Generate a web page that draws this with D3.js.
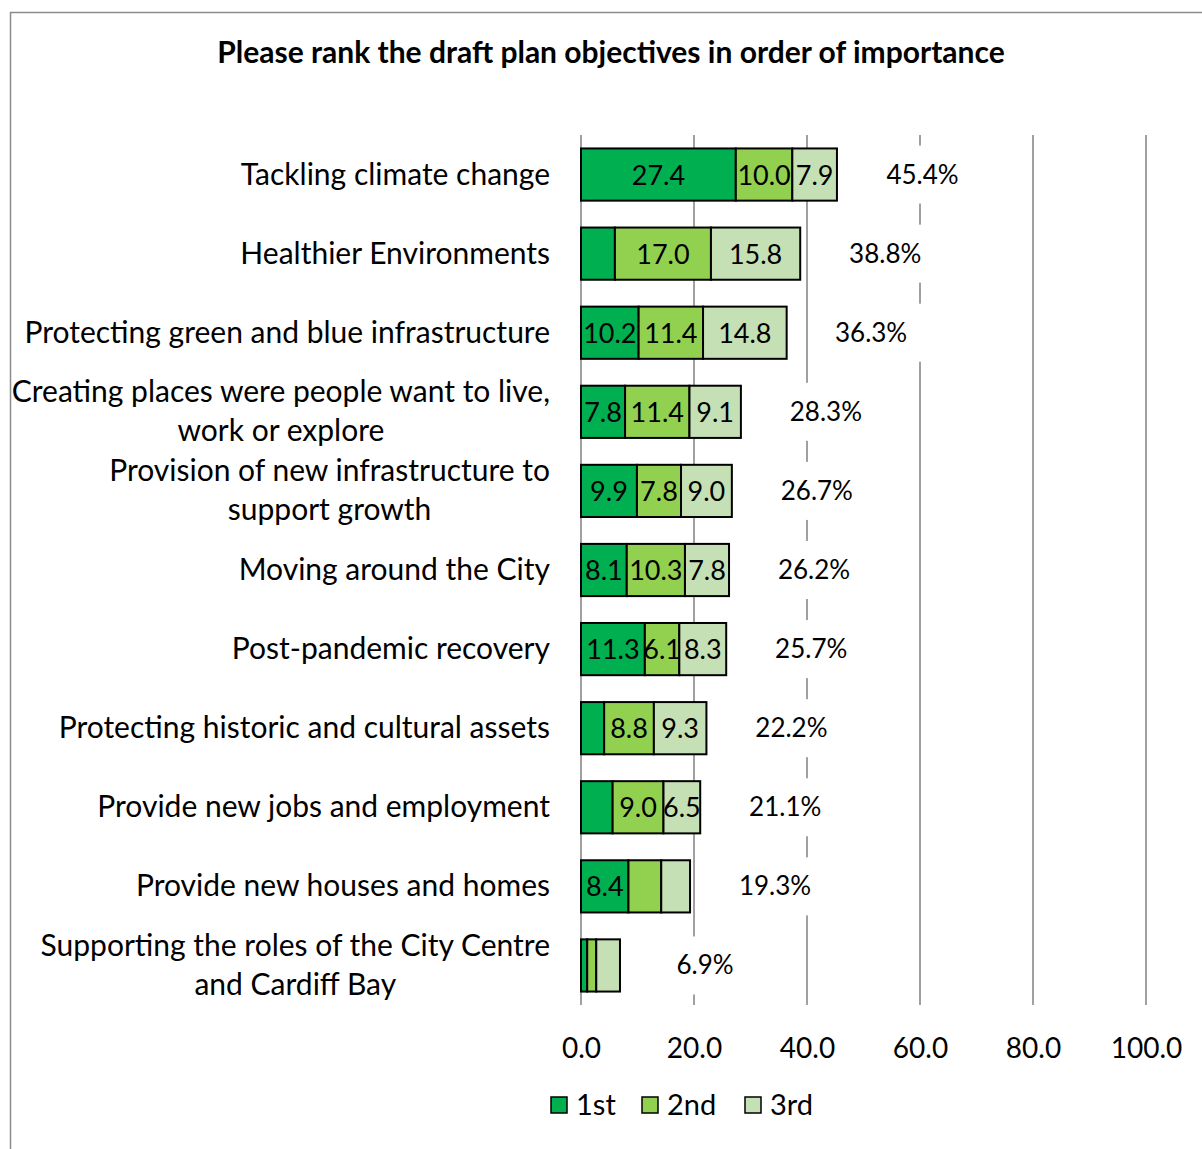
<!DOCTYPE html>
<html>
<head>
<meta charset="utf-8">
<script src="https://cdn.jsdelivr.net/npm/d3@7"></script>
<style>
  body { margin: 0; background: #fff; }
  text { font-family: Lato, "Liberation Sans", sans-serif; fill: #000; }
</style>
</head>
<body>
<div id="chart"></div>
<script>
// Create data
var categories = [
    'Tackling climate change',
    'Healthier Environments',
    'Protecting green and blue infrastructure',
    'Creating places were people want to live, work or explore',
    'Provision of new infrastructure to support growth',
    'Moving around the City',
    'Post-pandemic recovery',
    'Protecting historic and cultural assets',
    'Provide new jobs and employment',
    'Provide new houses and homes',
    'Supporting the roles of the City Centre and Cardiff Bay'
];
// label lines as they wrap in the original
var labelLines = [
    ['Tackling climate change'],
    ['Healthier Environments'],
    ['Protecting green and blue infrastructure'],
    ['Creating places were people want to live,', 'work or explore'],
    ['Provision of new infrastructure to', 'support growth'],
    ['Moving around the City'],
    ['Post-pandemic recovery'],
    ['Protecting historic and cultural assets'],
    ['Provide new jobs and employment'],
    ['Provide new houses and homes'],
    ['Supporting the roles of the City Centre', 'and Cardiff Bay']
];
var first = [27.4, 6.0, 10.2, 7.8, 9.9, 8.1, 11.3, 4.1, 5.6, 8.4, 1.1];
var second = [10.0, 17.0, 11.4, 11.4, 7.8, 10.3, 6.1, 8.8, 9.0, 5.8, 1.6];
var third = [7.9, 15.8, 14.8, 9.1, 9.0, 7.8, 8.3, 9.3, 6.5, 5.1, 4.2];
var totals = [45.4, 38.8, 36.3, 28.3, 26.7, 26.2, 25.7, 22.2, 21.1, 19.3, 6.9];
var seriesNames = ['1st', '2nd', '3rd'];
var xTicks = [0, 20, 40, 60, 80, 100];

var colors = {
    '1st': '#00b050',
    '2nd': '#92d050',
    '3rd': '#c5e0b4'
};

var width = 1202,
    height = 1149;

var rows = categories.map(function (c, i) {
    return { cat: c, '1st': first[i], '2nd': second[i], '3rd': third[i], total: totals[i], lines: labelLines[i] };
});

var svg = d3.select("#chart").append("svg")
    .attr("width", width)
    .attr("height", height);

// chart frame
svg.append("rect")
    .attr("x", 10.5)
    .attr("y", 12.5)
    .attr("width", 1400)
    .attr("height", 1400)
    .style("fill", "none")
    .style("stroke", "#8c8c8c")
    .style("stroke-width", 1.5);

svg.append("text")
    .attr("x", 611)
    .attr("y", 63)
    .style("text-anchor", "middle")
    .style("font-weight", "bold")
    .style("font-size", "30px")
    .text("Please rank the draft plan objectives in order of importance");

var x = d3.scaleLinear()
    .domain([0, 100])
    .range([581, 1146]);
var y = d3.scaleBand()
    .domain(categories)
    .range([135, 1005])
    .paddingInner(0.34)
    .paddingOuter(0.17);

// grid
svg.append("g").attr("class", "grid")
    .selectAll("line")
    .data(xTicks)
    .enter().append("line")
    .attr("x1", d => x(d))
    .attr("x2", d => x(d))
    .attr("y1", 135)
    .attr("y2", 1005)
    .style("stroke", "#a0a0a0")
    .style("stroke-width", 2);

// x axis labels
var xAxis = d3.axisBottom(x).tickValues(xTicks).tickFormat(d3.format(".1f")).tickSize(0).tickPadding(0);
var gx = svg.append("g")
    .attr("transform", "translate(0,1058)")
    .call(xAxis);
gx.select(".domain").remove();
gx.selectAll("text")
    .attr("dy", 0)
    .style("font-size", "28px")
    .style("font-family", "Lato, sans-serif")
    .style("fill", "#000");

// category labels
var lineH = 39;
var cats = svg.append("g").selectAll("text")
    .data(rows)
    .enter().append("text")
    .style("font-size", "30px")
    .attr("transform", d => "translate(0," + (y(d.cat) + y.bandwidth() / 2) + ")");
cats.each(function (d) {
    var t = d3.select(this);
    var n = d.lines.length;
    if (n == 1) {
        t.append("tspan").attr("x", 550).attr("y", 10)
            .style("text-anchor", "end").text(d.lines[0]);
    } else {
        t.style("text-anchor", "middle");
        d.lines.forEach(function (l, k) {
            t.append("tspan").attr("x", 0).attr("y", 10 + (k - (n - 1) / 2) * lineH).text(l);
        });
    }
});
// centre wrapped lines on the widest line, right aligned at 550
cats.filter(d => d.lines.length > 1).each(function () {
    var t = d3.select(this);
    var w = 0;
    t.selectAll("tspan").each(function () { w = Math.max(w, this.getComputedTextLength()); });
    t.selectAll("tspan").attr("x", 550 - w / 2);
});

// total labels with white boxes over the grid
var totG = svg.append("g").selectAll("g")
    .data(rows)
    .enter().append("g")
    .attr("transform", d => "translate(" + (x(d.total) + 85) + "," + (y(d.cat) + y.bandwidth() / 2) + ")");
totG.append("rect")
    .attr("x", -58)
    .attr("y", -29)
    .attr("width", 116)
    .attr("height", 58)
    .style("fill", "#fff");
totG.append("text")
    .attr("y", 9)
    .style("text-anchor", "middle")
    .style("font-size", "26px")
    .text(d => d.total.toFixed(1) + "%");

// stacked bars
var stack = d3.stack().keys(seriesNames);
var series = stack(rows);
var layers = svg.append("g").selectAll("g")
    .data(series)
    .enter().append("g")
    .style("fill", d => colors[d.key]);
layers.selectAll("rect")
    .data(d => d)
    .enter().append("rect")
    .attr("x", d => x(d[0]))
    .attr("y", d => y(d.data.cat))
    .attr("width", d => x(d[1]) - x(d[0]))
    .attr("height", y.bandwidth())
    .style("stroke", "#000")
    .style("stroke-width", 2);

// segment value labels (small slices were left unlabelled)
layers.selectAll("text")
    .data(d => d.filter(s => s[1] - s[0] > 6.05))
    .enter().append("text")
    .attr("x", d => (x(d[0]) + x(d[1])) / 2)
    .attr("y", d => y(d.data.cat) + y.bandwidth() / 2 + 10)
    .style("text-anchor", "middle")
    .style("font-size", "27px")
    .style("fill", "#000")
    .text(d => (d[1] - d[0]).toFixed(1));

// legend
var legendX = [551, 642, 745];
var legend = svg.append("g").selectAll("g")
    .data(seriesNames)
    .enter().append("g")
    .attr("transform", (d, i) => "translate(" + legendX[i] + ",1097)");
legend.append("rect")
    .attr("width", 16)
    .attr("height", 16)
    .style("fill", d => colors[d])
    .style("stroke", "#000")
    .style("stroke-width", 1.5);
legend.append("text")
    .attr("x", 25)
    .attr("y", 18)
    .style("font-size", "29px")
    .text(d => d);
</script>
</body>
</html>
